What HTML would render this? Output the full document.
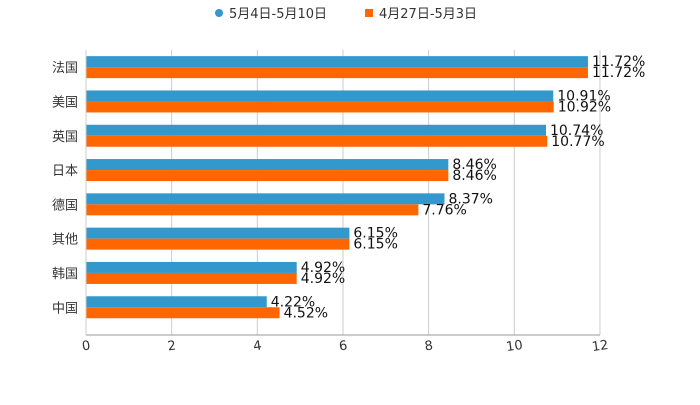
<!DOCTYPE html>
<html><head><meta charset="utf-8"><style>
body{margin:0;background:#fff;font-family:"Liberation Sans","Noto Sans CJK SC",sans-serif}
</style></head><body>
<svg width="700" height="400" font-family="DejaVu Sans, Liberation Sans, Noto Sans CJK SC, sans-serif">
<g>
<g><circle cx="219" cy="13" r="4" fill="#3399cc"/><text x="229" y="18" font-size="13" fill="#333">5月4日-5月10日</text></g>
<g><rect x="365" y="9" width="8" height="8" fill="#ff6600"/><text x="379" y="18" font-size="13" fill="#333">4月27日-5月3日</text></g>
</g>
<g id="grid"></g>
<g id="bars"></g>
<g id="axes"></g>
</svg>
<script>
const categories=["法国","美国","英国","日本","德国","其他","韩国","中国"];
const seriesA=[11.72,10.91,10.74,8.46,8.37,6.15,4.92,4.22];
const seriesB=[11.72,10.92,10.77,8.46,7.76,6.15,4.92,4.52];
const ticks=[0,2,4,6,8,10,12];
const ns="http://www.w3.org/2000/svg";
const x0=86,xs=42.83,plotTop=50,band=34.3,axisY=335;
const X=v=>x0+v*xs;
function mk(t,a,p){const e=document.createElementNS(ns,t);for(const k in a)e.setAttribute(k,a[k]);p.appendChild(e);return e;}
const grid=document.getElementById('grid'),bars=document.getElementById('bars'),axes=document.getElementById('axes');
ticks.forEach(t=>{
 const l=mk('line',{x1:X(t),x2:X(t),y1:plotTop,y2:axisY,stroke:'#ccc','stroke-width':1},grid);
 
 
 const tx=mk('text',{x:X(t),y:axisY+15,'font-size':13,fill:'#333','text-anchor':'middle',transform:`rotate(-8 ${X(t)} ${axisY+10})`},axes);
 tx.textContent=t;
 
 
});
const ax=mk('line',{x1:x0,x2:X(12),y1:axisY,y2:axisY,stroke:'#999','stroke-width':1},axes);


const ay=mk('line',{x1:x0,x2:x0,y1:plotTop,y2:axisY,stroke:'#ccc','stroke-width':1},axes);


categories.forEach((c,i)=>{
 const cy=plotTop+band*(i+0.5);
 const lb=mk('text',{x:78,y:cy+5,'font-size':13,fill:'#333','text-anchor':'end'},axes);
 lb.textContent=c;
 
 
 [[seriesA,'#3399cc',cy-11],[seriesB,'#ff6600',cy]].forEach(([s,col,y])=>{
  const r=mk('rect',{x:x0,y:y,width:X(s[i])-x0,height:11,fill:col},bars);
  
  
  const v=mk('text',{x:X(s[i])+4,y:y+10,'font-size':14,fill:'#111'},bars);
  v.textContent=s[i].toFixed(2)+'%';
  
  
 });
});
</script>
</body></html>
